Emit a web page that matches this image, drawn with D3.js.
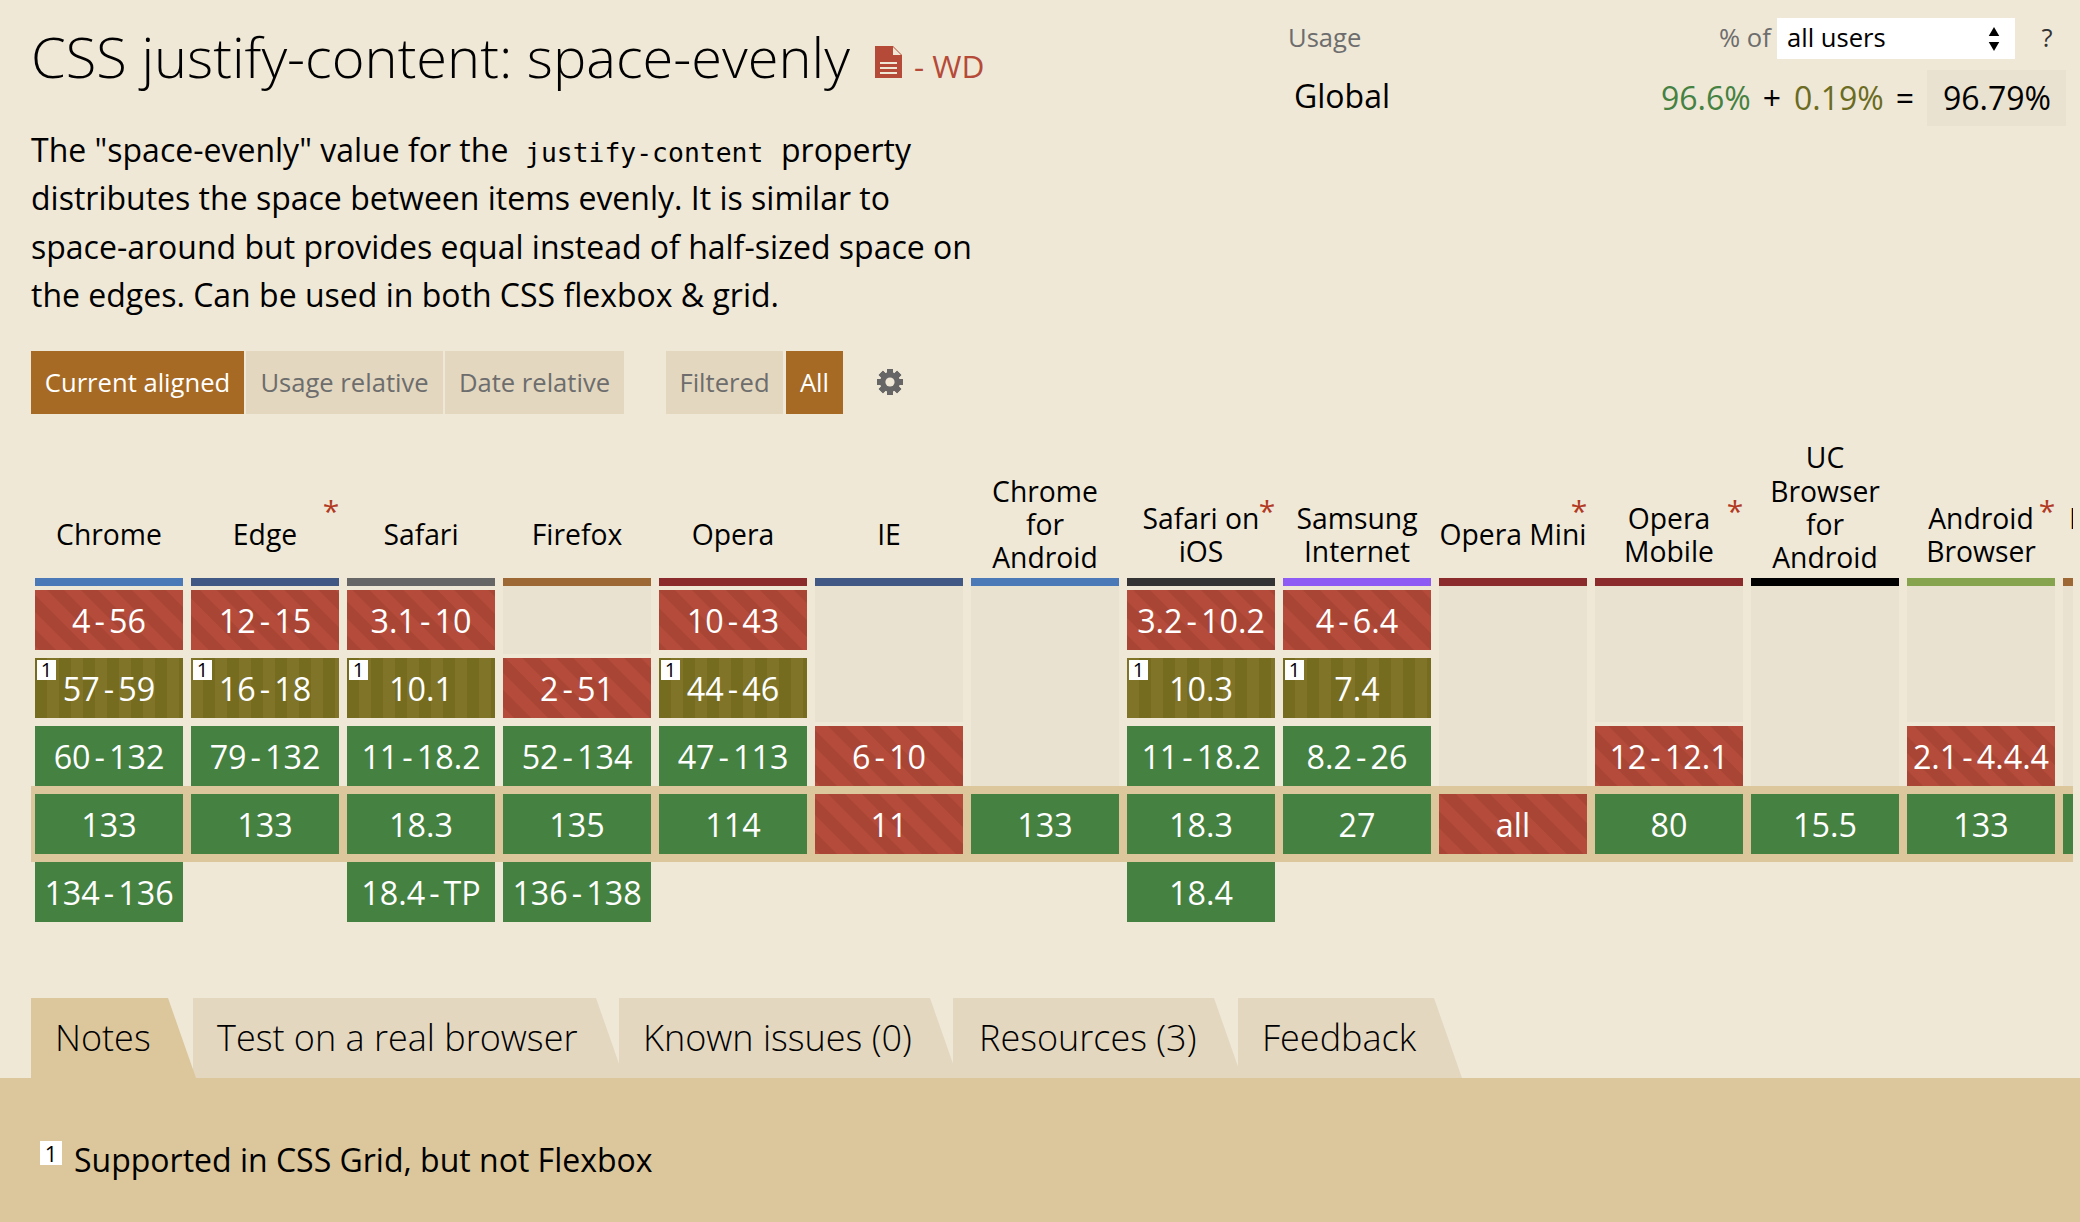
<!DOCTYPE html>
<html><head><meta charset="utf-8">
<style>html,body{margin:0;padding:0;background:#efe8d7;overflow:hidden}svg{display:block}
text{font-family:"Open Sans",sans-serif}</style>
<script src="https://cdn.jsdelivr.net/npm/d3@7"></script></head><body>
<script>
const browserNames=[["Chrome"],["Edge"],["Safari"],["Firefox"],["Opera"],["IE"],["Chrome","for","Android"],["Safari on","iOS"],["Samsung","Internet"],["Opera Mini"],["Opera","Mobile"],["UC","Browser","for","Android"],["Android","Browser"],["Firefox for","Android"]];
const barColours=["#4b79b7","#415884","#666666","#9d6834","#8c2b2b","#415884","#4b79b7","#333333","#8e5cf5","#8c2b2b","#8c2b2b","#000000","#86a34d","#9d6834"];
const hasAsterisk=[0,1,0,0,0,0,0,1,0,1,1,0,1,0];
const versionsRow0=["4-56","12-15","3.1-10",null,"10-43",null,null,"3.2-10.2","4-6.4",null,null,null,null,null];
const statusRow0=["n","n","n",null,"n",null,null,"n","n",null,null,null,null,null];
const versionsRow1=["57-59","16-18","10.1","2-51","44-46",null,null,"10.3","7.4",null,null,null,null,null];
const statusRow1=["a","a","a","n","a",null,null,"a","a",null,null,null,null,null];
const versionsRow2=["60-132","79-132","11-18.2","52-134","47-113","6-10",null,"11-18.2","8.2-26",null,"12-12.1",null,"2.1-4.4.4",null];
const statusRow2=["y","y","y","y","y","n",null,"y","y",null,"n",null,"n",null];
const versionsRow3=["133","133","18.3","135","114","11","133","18.3","27","all","80","15.5","133",""];
const statusRow3=["y","y","y","y","y","n","y","y","y","n","y","y","y","y"];
const versionsRow4=["134-136",null,"18.4-TP","136-138",null,null,null,"18.4",null,null,null,null,null,null];
const statusRow4=["y",null,"y","y",null,null,null,"y",null,null,null,null,null,null];
const versionRows=[versionsRow0,versionsRow1,versionsRow2,versionsRow3,versionsRow4];
const statusRows=[statusRow0,statusRow1,statusRow2,statusRow3,statusRow4];
const descriptionLines=[['The "space-evenly" value for the '],["distributes the space between items evenly. It is similar to"],["space-around but provides equal instead of half-sized space on"],["the edges. Can be used in both CSS flexbox & grid."]];
const viewButtons=[["Current aligned",31,244,1],["Usage relative",246,443,0],["Date relative",445,624,0],["Filtered",666,783,0],["All",786,843,1]];
const tabs=[["Notes",31,168,55],["Test on a real browser",193,596,217],["Known issues (0)",619,930,643],["Resources (3)",953,1214,979],["Feedback",1238,1434,1262]];

const W=2080,H=1222,BG="#efe8d7",BAND="#dcc69c",TAB="#e3d7bf",EMPTY="#e9e2d0",RED="#b54b3a",GREEN="#458141";
const svg=d3.select("body").append("svg").attr("width",W).attr("height",H).attr("viewBox",[0,0,W,H]);
svg.append("rect").attr("width",W).attr("height",H).attr("fill",BG);
const defs=svg.append("defs");
const p1=defs.append("pattern").attr("id","stN").attr("patternUnits","userSpaceOnUse").attr("width",24).attr("height",24).attr("patternTransform","rotate(-45)");
p1.append("rect").attr("width",24).attr("height",24).attr("fill",RED);
p1.append("rect").attr("width",12).attr("height",24).attr("fill","#a84534");
const p2=defs.append("pattern").attr("id","stA").attr("patternUnits","userSpaceOnUse").attr("width",24).attr("height",24).attr("x",35);
p2.append("rect").attr("width",24).attr("height",24).attr("fill","#807429");
p2.append("rect").attr("width",12).attr("height",24).attr("fill","#756c20");
defs.append("clipPath").attr("id","tbl").append("rect").attr("x",0).attr("y",0).attr("width",2073).attr("height",H);

const txt=(s,x,y,size,fill,opt={})=>svg.append("text").text(s).attr("x",x).attr("y",y).attr("font-size",size).attr("fill",fill)
  .attr("font-weight",opt.w||400).attr("text-anchor",opt.a||"start").style("font-family",opt.f||null);

// title
txt("CSS justify-content: space-evenly",31,78,56,"#000",{w:300});
svg.append("path").attr("d","M875 46H893L902 55V78H875Z").attr("fill","#b64a38");
svg.append("path").attr("d","M893 47L901 55H893Z").attr("fill",BG);
[62,67,72].forEach(y=>svg.append("rect").attr("x",880).attr("y",y).attr("width",17).attr("height",2).attr("fill",BG));
txt("- WD",914,78,31.6,"#b64a38");

// description
const lineY=d3.scaleLinear([0,1],[161.7,210.2]);
descriptionLines.forEach((l,i)=>txt(l[0],31,lineY(i),32,"#000"));
txt("justify-content",525,lineY(0),26.4,"#000",{f:"'DejaVu Sans Mono',monospace"});
txt("property",781,lineY(0),32,"#000");

// view buttons
viewButtons.forEach(b=>{
  svg.append("rect").attr("x",b[1]).attr("y",351).attr("width",b[2]-b[1]).attr("height",63).attr("fill",b[3]?"#a66a24":TAB);
  txt(b[0],(b[1]+b[2])/2,392,25.6,b[3]?"#fff":"#6d6d6d",{a:"middle"});
});
// gear
const gear=svg.append("g").attr("transform","translate(890,382)").attr("fill","#666");
d3.range(8).forEach(i=>gear.append("rect").attr("x",-3).attr("y",-13).attr("width",6).attr("height",26).attr("transform",`rotate(${i*45})`));
gear.append("circle").attr("r",10);
gear.append("circle").attr("r",4.6).attr("fill",BG);

// usage
txt("Usage",1288,47,25.6,"#6d6d6d");
txt("% of",1719,47,25.6,"#6d6d6d");
svg.append("rect").attr("x",1777).attr("y",18).attr("width",238).attr("height",41).attr("fill","#fff");
txt("all users",1787,47,25.6,"#000");
svg.append("path").attr("d",d3.symbol(d3.symbolTriangle,48)()).attr("transform","translate(1994,33)");
svg.append("path").attr("d",d3.symbol(d3.symbolTriangle,48)()).attr("transform","translate(1994,45) rotate(180)");
txt("?",2047,47,25.6,"#333",{a:"middle"});
txt("Global",1294,108,32,"#000");
txt("96.6%",1661,110,32,"#458141");
txt("+",1772,110,32,"#000",{a:"middle"});
txt("0.19%",1794,110,32,"#6b6b22");
txt("=",1905,110,32,"#000",{a:"middle"});
svg.append("rect").attr("x",1927).attr("y",70).attr("width",139).attr("height",56).attr("fill",EMPTY);
txt("96.79%",1997,110,32,"#000",{a:"middle"});

// table
const xCol=d3.scaleLinear([0,1],[35,191]);
const yRow=d3.scaleLinear([0,1],[590,658]);
const CW=148,RH=60;
const table=svg.append("g").attr("clip-path","url(#tbl)");
table.append("rect").attr("x",31).attr("y",786).attr("width",2060).attr("height",76).attr("fill",BAND);
browserNames.forEach((lines,c)=>{
  const cx=xCol(c)+CW/2,last=Math.min(568,545+(lines.length-1)*17);
  lines.forEach((ln,i)=>table.append("text").text(ln).attr("x",cx).attr("y",last-(lines.length-1-i)*33.2).attr("text-anchor","middle").attr("font-size",28.3).attr("fill","#000"));
  if(hasAsterisk[c]) table.append("text").text("*").attr("x",xCol(c)+CW-8).attr("y",522).attr("text-anchor","middle").attr("font-size",30).attr("fill","#b2391f");
  table.append("rect").attr("x",xCol(c)).attr("y",578).attr("width",CW).attr("height",8).attr("fill",barColours[c]);
  const first=versionRows.findIndex(r=>r[c]!==null);
  if(first>0) table.append("rect").attr("x",xCol(c)).attr("y",586).attr("width",CW).attr("height",first==3?200:yRow(first)-4-586).attr("fill",EMPTY);
});
versionRows.forEach((row,r)=>row.forEach((v,c)=>{
  if(v===null) return;
  const st=statusRows[r][c];
  table.append("rect").attr("x",xCol(c)).attr("y",yRow(r)).attr("width",CW).attr("height",RH)
    .attr("fill",st=="n"?"url(#stN)":st=="a"?"url(#stA)":GREEN);
  const t=table.append("text").attr("x",xCol(c)+CW/2).attr("y",yRow(r)+43).attr("text-anchor","middle").attr("font-size",32.3).attr("fill","#fff");
  const parts=v.split("-");
  parts.forEach((p,i)=>{
    if(i>0) t.append("tspan").attr("dx",4).text("-");
    t.append("tspan").attr("dx",i>0?4:0).text(p);
  });
  if(st=="a"){
    table.append("rect").attr("x",xCol(c)+2).attr("y",yRow(r)+2).attr("width",19).attr("height",20).attr("fill","#fff");
    table.append("text").text("1").attr("x",xCol(c)+11.5).attr("y",yRow(r)+19).attr("text-anchor","middle").attr("font-size",20).attr("fill","#000");
  }
}));

// tabs
svg.append("rect").attr("x",0).attr("y",1078).attr("width",W).attr("height",144).attr("fill",BAND);
const tabPath=(l,r)=>`M${l} 998H${r}L${r+28} 1078H${l}Z`;
tabs.slice(1).forEach(t=>svg.append("path").attr("d",tabPath(t[1],t[2])).attr("fill",TAB));
svg.append("path").attr("d",tabPath(tabs[0][1],tabs[0][2])).attr("fill",BAND);
tabs.forEach(t=>txt(t[0],t[3],1051,36,"#000",{w:300}));

// note
svg.append("rect").attr("x",40).attr("y",1141).attr("width",22).attr("height",24).attr("fill","#fff");
txt("1",51,1162,22,"#000",{a:"middle"});
txt("Supported in CSS Grid, but not Flexbox",74,1172,32,"#000");
</script></body></html>
